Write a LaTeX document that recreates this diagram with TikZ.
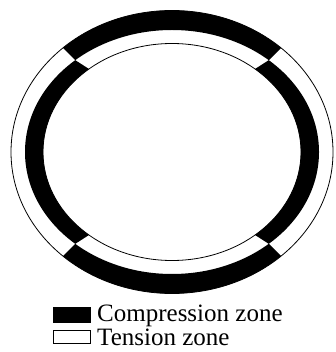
\documentclass[tikz,border=0pt]{standalone}
\usepackage{fontspec}
\setmainfont{Liberation Serif}
\tikzset{
  thinline/.style={draw=black,line width=0.8pt},
  zonefill/.style={fill=black},
  legendtext/.style={anchor=base west,inner sep=0pt,font=\fontsize{25}{30}\selectfont}
}
\begin{document}
\begin{tikzpicture}[x=1pt,y=-1pt]
\useasboundingbox (0,0) rectangle (335,352);
\coordinate (c) at (172,152);
% outer ring: black at top and bottom
\begin{scope}
  \clip (172,157) -- (-228,-243) -- (572,-243) -- cycle;
  \fill[zonefill,even odd rule] (c) ellipse [x radius=161,y radius=141.5] (c) ellipse [x radius=147,y radius=122];
\end{scope}
\begin{scope}
  \clip (172,147) -- (-228,547) -- (572,547) -- cycle;
  \fill[zonefill,even odd rule] (c) ellipse [x radius=161,y radius=141.5] (c) ellipse [x radius=147,y radius=122];
\end{scope}
% inner ring: black at left and right
\begin{scope}
  \clip (61,51) -- (103,78) -- (103,226) -- (61,253) -- (-50,253) -- (-50,51) -- cycle;
  \fill[zonefill,even odd rule] (c) ellipse [x radius=147,y radius=122] (c) ellipse [x radius=129,y radius=108.5];
\end{scope}
\begin{scope}
  \clip (283,51) -- (241,78) -- (241,226) -- (283,253) -- (400,253) -- (400,51) -- cycle;
  \fill[zonefill,even odd rule] (c) ellipse [x radius=147,y radius=122] (c) ellipse [x radius=129,y radius=108.5];
\end{scope}
% thin outlines
\draw[thinline] (c) ellipse [x radius=161,y radius=141.5];
\draw[thinline] (c) ellipse [x radius=129,y radius=108.5];
% legend
\fill[zonefill] (53.3,307) rectangle (91,323);
\draw[thinline] (53.7,330.4) rectangle (90.3,343);
\node[legendtext] (comp) at (97,321.7) {Compression zone};
\node[legendtext] (tens) at (97,345) {Tension zone};
\end{tikzpicture}
\end{document}
